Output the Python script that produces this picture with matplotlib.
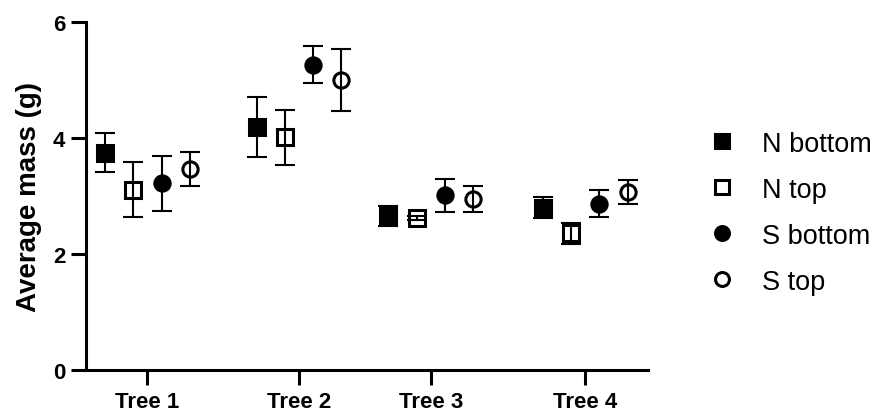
import matplotlib
matplotlib.use("Agg")
import matplotlib.pyplot as plt
from matplotlib.lines import Line2D

plt.rcParams['font.family'] = ['Liberation Sans', 'DejaVu Sans']

trees = ["Tree 1", "Tree 2", "Tree 3", "Tree 4"]
series = ["N bottom", "N top", "S bottom", "S top"]
means = {
    "N bottom": [3.75, 4.19, 2.66, 2.80],
    "N top":    [3.11, 4.01, 2.62, 2.36],
    "S bottom": [3.22, 5.26, 3.01, 2.87],
    "S top":    [3.47, 5.00, 2.95, 3.07],
}
errs = {
    "N bottom": [0.33, 0.51, 0.17, 0.18],
    "N top":    [0.48, 0.47, 0.04, 0.18],
    "S bottom": [0.47, 0.32, 0.29, 0.23],
    "S top":    [0.29, 0.54, 0.22, 0.20],
}
centers = [1.5, 6.85, 11.5, 16.95]
offsets = [-1.5, -0.5, 0.5, 1.5]
markers = {"N bottom": ("s", "black"), "N top": ("s", "none"),
           "S bottom": ("o", "black"), "S top": ("o", "none")}

fig = plt.figure(figsize=(8.74, 4.14), dpi=100)
ax = fig.add_axes([0.0984, 0.1039, 0.6430, 0.8405])

for s, off in zip(series, offsets):
    m, fc = markers[s]
    xs = [c + off for c in centers]
    ax.errorbar(xs, means[s], yerr=errs[s], fmt='none', ecolor='black',
                elinewidth=1.5, capsize=7, capthick=1.5, zorder=2)
    ax.plot(xs, means[s], linestyle='none', marker=m, markersize=11,
            markerfacecolor=fc, markeredgecolor='black', markeredgewidth=2.2, zorder=3)

ax.set_xlim(-0.67, 19.17)
ax.set_ylim(0, 6)
ax.set_yticks([0, 2, 4, 6])
ax.set_xticks(centers)
ax.set_xticklabels(trees)
for sp in ['top', 'right']:
    ax.spines[sp].set_visible(False)
for sp in ['left', 'bottom']:
    ax.spines[sp].set_linewidth(2.2)
ax.tick_params(axis='both', width=2.2, length=11, labelsize=16)
ax.tick_params(axis='y', pad=4)
ax.tick_params(axis='x', pad=4)
for lab in ax.get_xticklabels() + ax.get_yticklabels():
    lab.set_fontweight('bold')
ax.set_ylabel("Average mass (g)", fontsize=20, fontweight='bold', labelpad=8)

handles = []
for s in series:
    m, fc = markers[s]
    handles.append(Line2D([], [], linestyle='none', marker=m, markersize=10,
                          markerfacecolor=fc, markeredgecolor='black', markeredgewidth=2.2))
leg = fig.legend(handles, series, loc='center left', bbox_to_anchor=(0.811, 0.484),
                 frameon=False, fontsize=19.5, handletextpad=0.95, labelspacing=0.74,
                 handlelength=1.0, borderpad=0, borderaxespad=0)
fig.savefig("out.png", dpi=100)
